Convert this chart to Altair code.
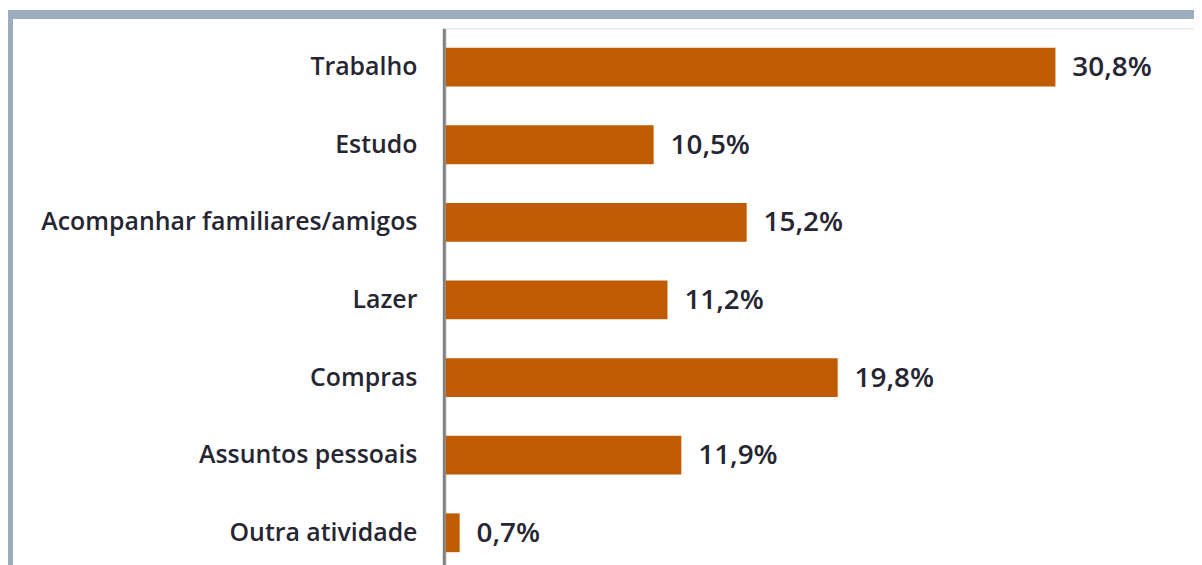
import altair as alt
import pandas as pd

categories = ["Trabalho", "Estudo", "Acompanhar familiares/amigos", "Lazer",
              "Compras", "Assuntos pessoais", "Outra atividade"]
values = [30.8, 10.5, 15.2, 11.2, 19.8, 11.9, 0.7]

df = pd.DataFrame({"cat": categories, "v": values})

FONT = "Open Sans"
TEXT = "#262633"
BAR = "#BF5B00"

y_enc = alt.Y("cat:N", sort=categories, title=None,
              scale=alt.Scale(paddingInner=0.5, paddingOuter=0.25),
              axis=alt.Axis(ticks=False, domainColor="#808080", domainWidth=3, offset=2,
                            labelFontSize=25, labelFont=FONT, labelFontWeight=600,
                            labelColor=TEXT, labelPadding=27, labelLimit=0, grid=False))
x_enc = alt.X("v:Q", scale=alt.Scale(domain=[0, 37.8]), axis=None)

bars = alt.Chart(df).mark_bar(color=BAR, size=39).encode(x=x_enc, y=y_enc)

labels = alt.Chart(df).transform_calculate(
    lab="replace(format(datum.v, '.1f'), '.', ',') + '%'"
).mark_text(align="left", baseline="middle", dx=17, dy=1, fontSize=28, font=FONT,
            fontWeight=600, color=TEXT).encode(
    x=x_enc, y=alt.Y("cat:N", sort=categories), text="lab:N")

frame_top = alt.Chart(df).mark_rule(color="#9DADBE", strokeWidth=8).encode(
    x=alt.value(-447), x2=alt.value(800), y=alt.value(-14))
frame_left = alt.Chart(df).mark_rule(color="#9DADBE", strokeWidth=8).encode(
    x=alt.value(-439), y=alt.value(-18), y2=alt.value(600))

chart = alt.layer(frame_top, frame_left, bars, labels).properties(
    width=752, height=546,
    autosize=alt.AutoSizeParams(type="none"),
    padding={"left": 440, "top": 19, "right": 0, "bottom": 0},
).configure_view(stroke=None).configure(background="white")

chart.save("out.html", embed_options={"renderer": "svg", "actions": False})
